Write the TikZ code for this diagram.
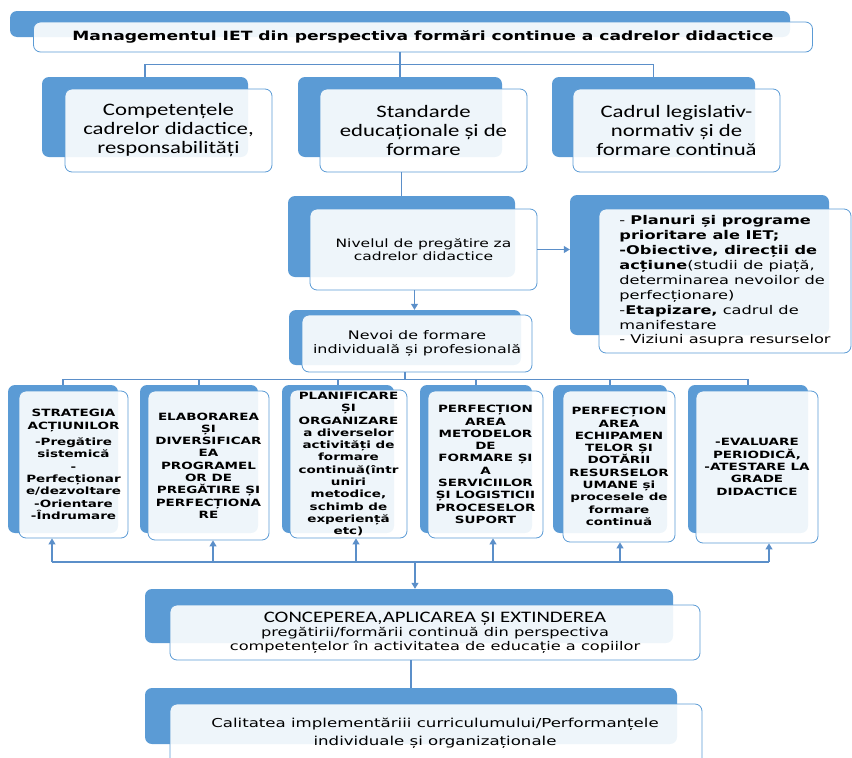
\documentclass[tikz,border=0pt]{standalone}
\usepackage{fontspec}
\usetikzlibrary{arrows.meta}
\setmainfont{Carlito}[FakeStretch=1.3]
\newfontfamily\verd{DejaVu Sans}[FakeStretch=1.35]
\definecolor{office}{HTML}{5B9BD5}
\definecolor{wirec}{HTML}{5B8FC9}
\begin{document}
\begin{tikzpicture}[x=1pt,y=-1pt,
  back/.style={fill=office, rounded corners=7pt, inner sep=0pt},
  front/.style={draw=office, line width=0.8pt, rounded corners=7pt, fill=white, fill opacity=0.9, text opacity=1, inner sep=0pt, align=center},
  wire/.style={draw=wirec, line width=1.1pt},
  arr/.style={wire, -{Triangle[width=7pt,length=6pt]}},
  colt/.style={font=\verd\bfseries\fontsize{10}{12.3}\selectfont}]
\useasboundingbox (0,0) rectangle (852,758);
% title
\node[back, minimum width=780pt, minimum height=26pt] (t0) at (400,24) {};
\node[front, minimum width=779pt, minimum height=30pt, font=\verd\bfseries\fontsize{12.7}{15}\selectfont] (t1) at (423,37) {Managementul IET din perspectiva formări continue a cadrelor didactice};
% top row
\node[back, minimum width=206pt, minimum height=80pt] (k1) at (145,117) {};
\node[front, minimum width=207pt, minimum height=83pt, font=\fontsize{17.5}{19}\selectfont] (s1) at (168.5,130.5) {Competențele\\cadrelor didactice,\\responsabilități};
\node[back, minimum width=204pt, minimum height=80pt] (k2) at (400,117) {};
\node[front, minimum width=207pt, minimum height=83pt, font=\fontsize{17.5}{19}\selectfont] (s2) at (423.5,130.5) {Standarde\\educaționale și de\\formare};
\node[back, minimum width=203pt, minimum height=80pt] (k3) at (653.5,117) {};
\node[front, minimum width=207pt, minimum height=83pt, font=\fontsize{17.5}{19}\selectfont] (s3) at (676.5,130.5) {Cadrul legislativ-\\normativ și de\\formare continuă};
\draw[wire] (t1.south -| k2.north) -- (k2.north);
\draw[wire] (k1.north) -- ++(0,-12) -| (k3.north);
% middle
\node[back, minimum width=227pt, minimum height=81pt] (n0) at (401.5,236.5) {};
\node[front, minimum width=227pt, minimum height=81pt, font=\verd\fontsize{11.5}{13.5}\selectfont] (n1) at (423.5,249.5) {Nivelul de pregătire za\\cadrelor didactice};
\draw[wire] (s2.south -| n0.north) -- (n0.north);
\node[back, minimum width=259pt, minimum height=140pt] (r0) at (699.5,265) {};
\node[front, minimum width=252pt, minimum height=144pt, align=left, font=\verd\fontsize{12}{14.9}\selectfont] (r1) at (725,281) {- \textbf{Planuri și programe}\\\textbf{prioritare ale IET;}\\\textbf{-Obiective, direcții de}\\\textbf{acțiune}(studii de piață,\\determinarea nevoilor de\\perfecționare)\\-\textbf{Etapizare,} cadrul de\\manifestare\\- Viziuni asupra resurselor};
\draw[arr] (n1.east) -- (r0.west |- n1.east);
\node[back, minimum width=232pt, minimum height=55pt] (v0) at (405,337.5) {};
\node[front, minimum width=230pt, minimum height=57pt, font=\verd\fontsize{11.8}{13.5}\selectfont] (v1) at (417,343.5) {Nevoi de formare\\individuală și profesională};
\draw[arr] ([xshift=-9pt]n1.south) -- ([xshift=-9pt]n1.south |- v0.north);
% six columns
\node[back, minimum width=110pt, minimum height=148pt] (c1b) at (63,459) {};
\node[front, colt, minimum width=109pt, minimum height=147pt] (c1) at (73.5,464.5) {STRATEGIA\\ACȚIUNILOR\\[4pt]-Pregătire\\sistemică\\-\\Perfecționar\\e/dezvoltare\\-Orientare\\-Îndrumare};
\node[back, minimum width=118pt, minimum height=148pt] (c2b) at (199,459) {};
\node[front, colt, minimum width=121pt, minimum height=149pt] (c2) at (208.5,465.5) {ELABORAREA\\ȘI\\DIVERSIFICAR\\EA\\PROGRAMEL\\OR DE\\PREGĂTIRE ȘI\\PERFECȚIONA\\RE};
\node[back, minimum width=112pt, minimum height=148pt] (c3b) at (338,459) {};
\node[front, colt, minimum width=117pt, minimum height=148pt] (c3) at (348.5,464) {PLANIFICARE\\ȘI\\ORGANIZARE\\a diverselor\\activități de\\formare\\continuă(într\\uniri\\metodice,\\schimb de\\experiență\\etc)};
\node[back, minimum width=112pt, minimum height=148pt] (c4b) at (476,459) {};
\node[front, colt, minimum width=115pt, minimum height=147pt] (c4) at (485.5,464.5) {PERFECȚION\\AREA\\METODELOR\\DE\\FORMARE ȘI\\A\\SERVICIILOR\\ȘI LOGISTICII\\PROCESELOR\\SUPORT};
\node[back, minimum width=114pt, minimum height=148pt] (c5b) at (610,459) {};
\node[front, colt, minimum width=112pt, minimum height=151pt] (c5) at (619,466.5) {PERFECȚION\\AREA\\ECHIPAMEN\\TELOR ȘI\\DOTĂRII\\RESURSELOR\\UMANE și\\procesele de\\formare\\continuă};
\node[back, minimum width=120pt, minimum height=148pt] (c6b) at (748,459) {};
\node[front, colt, minimum width=122pt, minimum height=152pt] (c6) at (757,467) {-EVALUARE\\PERIODICĂ,\\-ATESTARE LA\\GRADE\\DIDACTICE};
\draw[wire] (v1.south -| v0.north) -- ++(0,8);
\draw[wire] (c1b.north) -- ++(0,-5) -| (c6b.north);
\draw[wire] (c2b.north) -- ++(0,-5);
\draw[wire] (c3b.north) -- ++(0,-5);
\draw[wire] (c4b.north) -- ++(0,-5);
\draw[wire] (c5b.north) -- ++(0,-5);
% feedback bus
\coordinate (u1) at (52,562);
\coordinate (u2) at (213,562);
\coordinate (u3) at (356,562);
\coordinate (u4) at (493,562);
\coordinate (u5) at (620,562);
\coordinate (u6) at (769,562);
\coordinate (u0) at (415,562);
\draw[wire] (u1) -- (u6);
\draw[arr] (u1) -- (u1 |- c1.south);
\draw[arr] (u2) -- (u2 |- c2.south);
\draw[arr] (u3) -- (u3 |- c3.south);
\draw[arr] (u4) -- (u4 |- c4.south);
\draw[arr] (u5) -- (u5 |- c5.south);
\draw[arr] (u6) -- (u6 |- c6.south);
% bottom
\node[back, minimum width=528pt, minimum height=54pt] (m0) at (409,616) {};
\node[front, minimum width=530pt, minimum height=55pt, font=\verd\fontsize{12}{14}\selectfont] (m1) at (435,632.5) {{\rmfamily\fontsize{16}{14}\selectfont CONCEPEREA,APLICAREA ȘI EXTINDEREA}\\pregătirii/formării continuă din perspectiva\\competențelor în activitatea de educație a copiilor};
\draw[arr] (u0) -- (u0 |- m0.north);
\node[back, minimum width=532pt, minimum height=56pt] (q0) at (411,716) {};
\node[front, minimum width=532pt, minimum height=71pt] (q1) at (436,739.5) {};
\node[font=\verd\fontsize{12.3}{18}\selectfont, align=center] (qt) at (435,733) {Calitatea implementăriii curriculumului/Performanțele\\individuale și organizaționale};
\draw[wire] (m1.south -| q0.north) -- (q0.north);
\end{tikzpicture}
\end{document}
